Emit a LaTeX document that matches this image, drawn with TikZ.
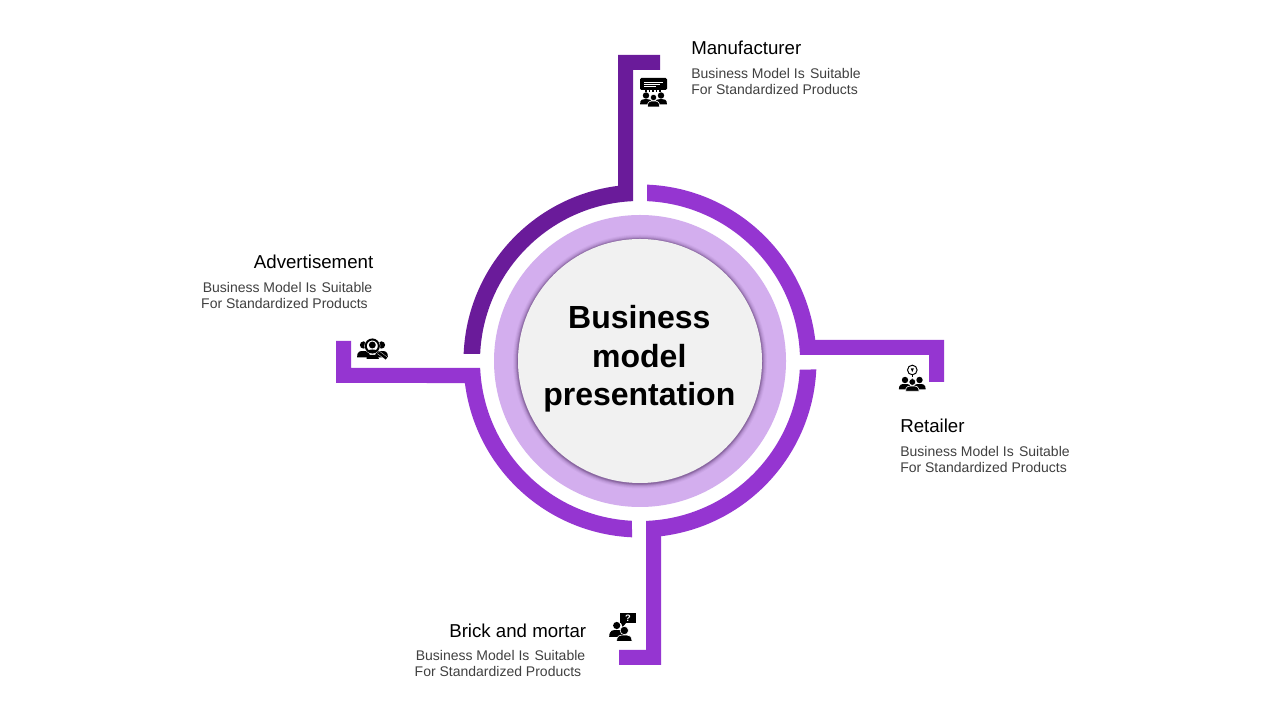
\documentclass[tikz,border=0pt]{standalone}
\usepackage{fontspec}
\setmainfont{Liberation Sans}
\definecolor{darkpurple}{HTML}{6A1B9A}
\definecolor{midpurple}{HTML}{9535D1}
\definecolor{lightpurple}{HTML}{D3AEEE}
\definecolor{discgray}{HTML}{F1F1F1}
\definecolor{bodygray}{HTML}{404040}
\tikzset{
  headtext/.style={inner sep=0pt,font=\fontsize{14}{16}\selectfont,text=black},
  bodytext/.style={inner sep=0pt,font=\fontsize{10.5}{12}\selectfont,text=bodygray,align=left},
  cutout/.style={fill=black,draw=white,line width=.45pt},
}
\newcommand{\onePerson}[7][black]{%
  \fill[#1] ({#2-#5},#7) .. controls ({#2-#5},#6) and ({#2-.5*#5},#6) .. (#2,#6)
     .. controls ({#2+.5*#5},#6) and ({#2+#5},#6) .. ({#2+#5},#7) -- cycle;
  \fill[#1] (#2,#3) circle[radius=#4*0.75pt];}
\begin{document}
\begin{tikzpicture}[x=0.75pt,y=-0.75pt,yshift=540pt]
\useasboundingbox (0,0) rectangle (1280,720);
\fill[white] (0,0) rectangle (1280,720);
% segments
\fill[darkpurple] (618,55) -- (660,55) -- (660,70) -- (633,70) -- (633,201.15)
  arc[start angle=92.51,end angle=177.49,radius=120pt] -- (463.64,353.98)
  arc[start angle=177.72,end angle=97.16,radius=132.375pt] -- cycle;
\fill[midpurple] (647,184.64) arc[start angle=87.73,end angle=6.83,radius=132.375pt]
  -- (944,340) -- (944,382) -- (929,382) -- (929,355) -- (799.89,355)
  arc[start angle=2.15,end angle=87.49,radius=120pt] -- cycle;
\fill[midpurple] (816.3,369.5) arc[start angle=-2.76,end angle=-83.17,radius=132.375pt]
  -- (661,665) -- (619,665) -- (619,650) -- (646,650) -- (646,520.89)
  arc[start angle=-87.85,end angle=-3.05,radius=120pt] -- cycle;
\fill[midpurple] (632,537.32) arc[start angle=267.4,end angle=187.16,radius=132.375pt]
  -- (336,383) -- (336,341) -- (351,341) -- (351,368) -- (480.15,368)
  arc[start angle=182.51,end angle=267.13,radius=120pt] -- cycle;
% rings
\fill[lightpurple] (640,361) circle[radius=109.5pt];
\foreach \r/\o in {127/.04,126/.06,125/.07,124.2/.09,123.5/.12,122.8/.15}{
  \fill[black!60!darkpurple,opacity=\o] (640,361.5) circle[radius=\r*0.75pt];}
\fill[discgray] (640,361) circle[radius=91.5pt];
\node[inner sep=0pt,align=center,font=\fontsize{24}{28.9}\bfseries\selectfont,text=black] (title) at (639.3,359) {Business\\model\\presentation};
% texts
\node[headtext,anchor=base west] (tmanu) at (691,55) {Manufacturer};
\node[bodytext,anchor=base west] (bmanu) at (691,79) {Business Model Is\hspace{1pt} Suitable};
\node[bodytext,anchor=base west] (cmanu) at (691,95) {For Standardized Products};
\node[headtext,anchor=base east] (tadv) at (373.5,269) {Advertisement};
\node[bodytext,anchor=base east] (badv) at (372.5,293) {Business Model Is\hspace{1pt} Suitable};
\node[bodytext,anchor=base east] (cadv) at (368,309) {For Standardized Products};
\node[headtext,anchor=base west] (tret) at (900,433) {Retailer};
\node[bodytext,anchor=base west] (bret) at (900,457) {Business Model Is\hspace{1pt} Suitable};
\node[bodytext,anchor=base west] (cret) at (900,473) {For Standardized Products};
\node[headtext,anchor=base east] (tbrick) at (586.5,638) {Brick and mortar};
\node[bodytext,anchor=base east] (bbrick) at (585.5,661) {Business Model Is\hspace{1pt} Suitable};
\node[bodytext,anchor=base east] (cbrick) at (581.5,677) {For Standardized Products};
% icon: manufacturer
\fill[black,rounded corners=1pt] (640,78) rectangle (667,90);
\draw[white,line width=.6pt] (644,82) -- (663,82) (644,84) -- (660,84) (644,86) -- (656,86);
\draw[black,line width=.8pt,dash pattern=on 1.2pt off 1.5pt] (645,91) -- (662,91);
\onePerson{646}{95.5}{3.2}{6}{99}{104.5}
\onePerson{661}{95.5}{3.2}{6}{99}{104.5}
\onePerson[cutout]{653.5}{97.5}{3.2}{6.2}{101}{107}
% icon: advertisement
\onePerson{363.5}{345}{3.6}{6.5}{351}{357.5}
\onePerson{381.5}{345}{3.6}{6.5}{351}{357.5}
\fill[white] (372.3,346) circle[radius=6pt];
\draw[black,line width=1.5pt] (372.3,346) circle[radius=4.9pt];
\fill[black] (372.3,345) circle[radius=2.6pt];
\fill[black] (367,351) .. controls (369,349) and (376,349) .. (378,351) -- (375,352.5) -- (370,352.5) -- cycle;
\fill[black] (366.5,355) -- (377,355) -- (379,359) -- (366.5,359) -- cycle;
\draw[white,line width=2.6pt] (378.5,352.5) -- (387,359);
\draw[black,line width=2pt] (378.5,352.5) -- (386.5,358.5);
% icon: retailer
\draw[black,line width=.75pt] (912.3,370) circle[radius=3.6pt];
\fill[black] (912.3,372) -- (910.8,368.5) -- (913.8,368.5) -- cycle;
\draw[black,line width=.7pt,dash pattern=on 1pt off .7pt] (912.3,375.5) -- (912.3,379);
\onePerson{905}{380}{3.2}{6.2}{384}{389.5}
\onePerson{919.5}{380}{3.2}{6.2}{384}{389.5}
\onePerson[cutout]{912.3}{382}{3.4}{6.8}{386}{391.3}
% icon: brick and mortar
\fill[black] (620,613) rectangle (636,623.5);
\fill[black] (621,623) -- (622.7,627) -- (626,623) -- cycle;
\node[inner sep=0pt,text=white,font=\fontsize{7}{8}\bfseries\selectfont] (qmark) at (628,618.3) {?};
\onePerson{616.7}{625.5}{3.6}{7.5}{630}{637}
\onePerson[cutout]{624.3}{630.5}{4.2}{7.8}{635}{641.5}
\end{tikzpicture}
\end{document}
